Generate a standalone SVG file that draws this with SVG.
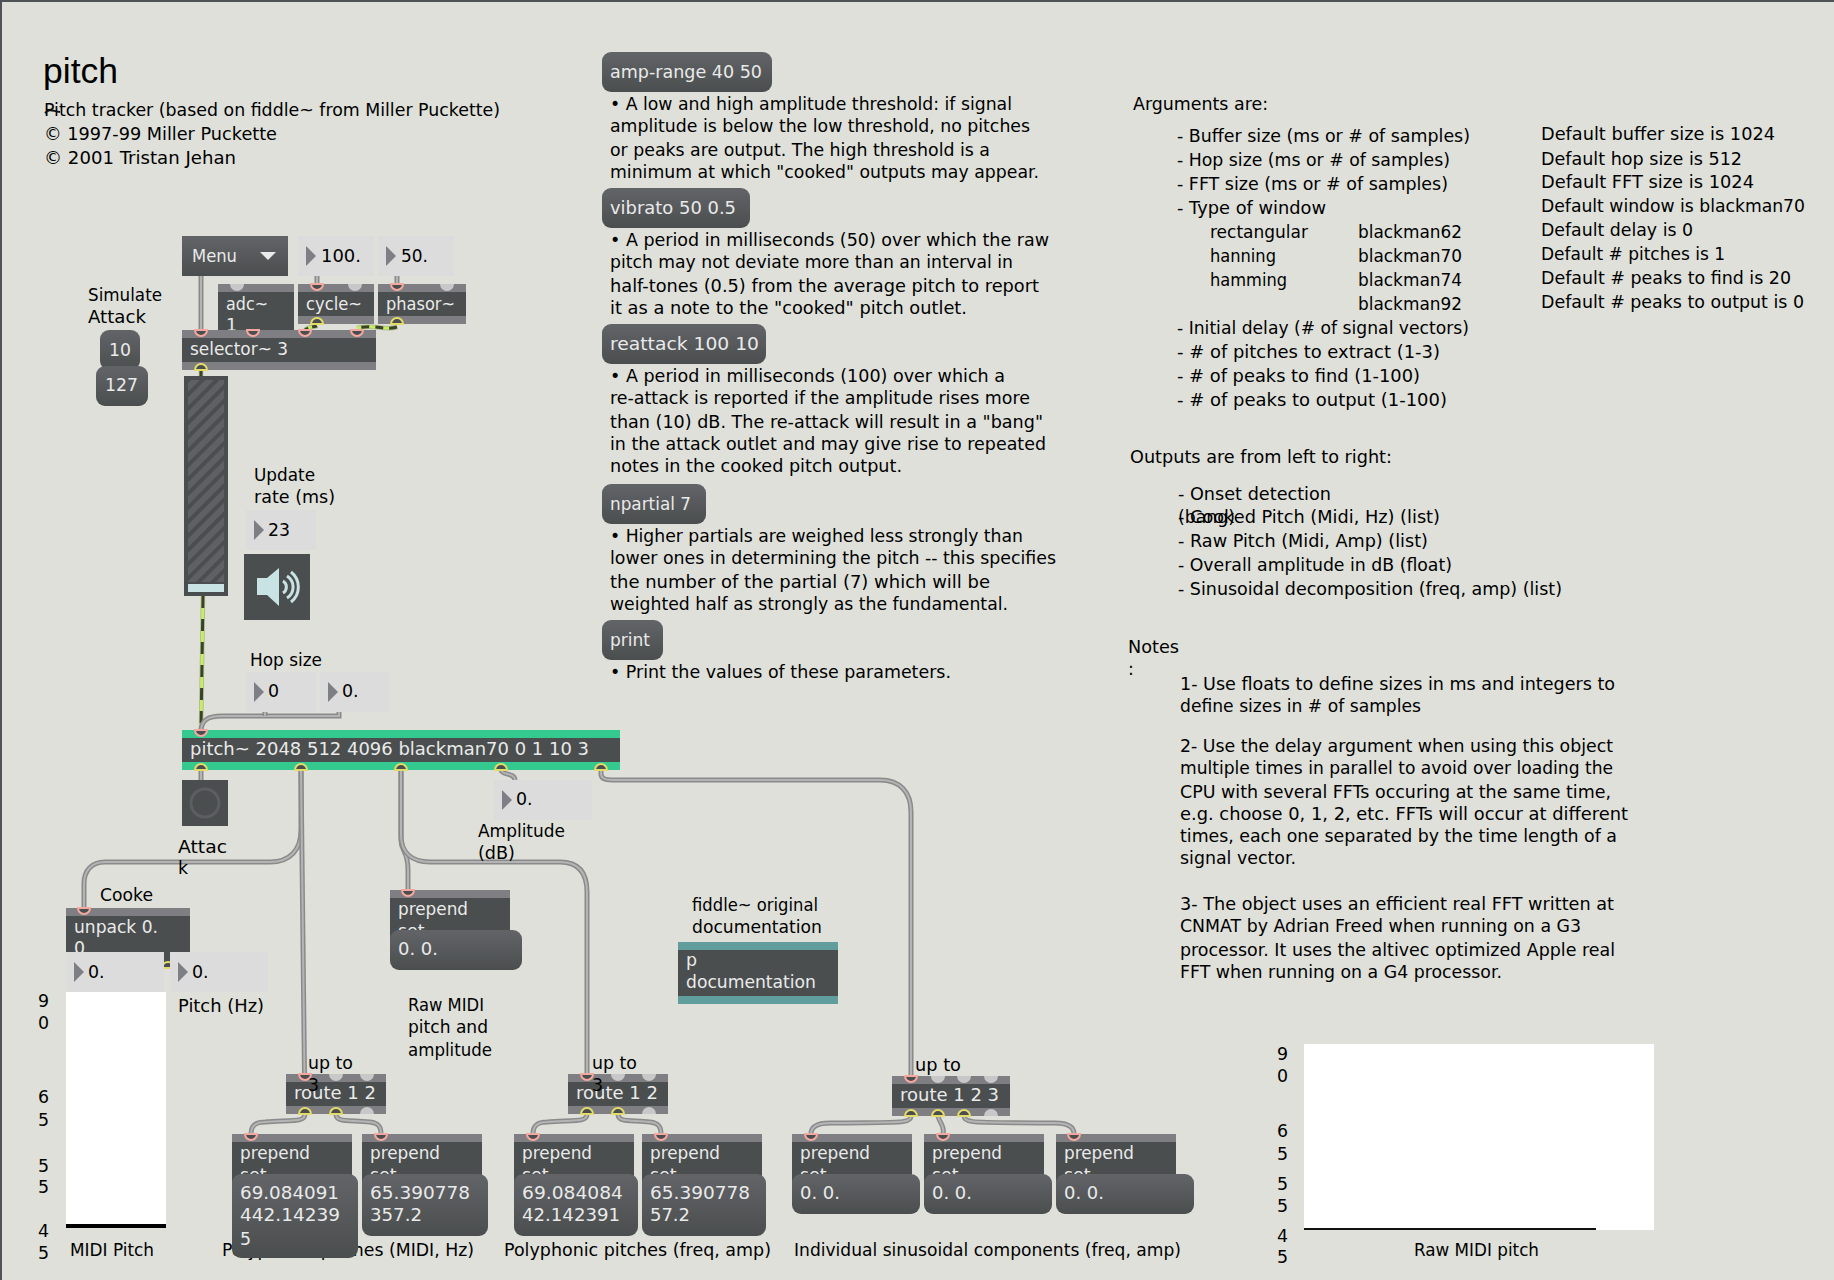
<svg xmlns="http://www.w3.org/2000/svg" width="1834" height="1280" viewBox="0 0 1834 1280">
<style>
text{font-family:"DejaVu Sans","Liberation Sans",sans-serif;font-size:17.4px;fill:#000}
.t{fill:#e9eaea}
.title{font-family:"Liberation Sans",Arial,sans-serif;font-size:35.5px}
.d{fill:#4b4e4e}
.m{fill:url(#msg)}
.b{fill:#7f7f83}
.n{fill:#dcdcdc}
.tr{fill:#7e7f85}
.g{fill:#34c98f}
.tl{fill:#629d9d}
.w{fill:#fff}
.c{fill:none;stroke:#8a8a8a;stroke-width:5}
.ci{fill:none;stroke:#b4b4b4;stroke-width:2}
.s{fill:none;stroke:#a9b58a;stroke-width:4.500}
.sa{fill:none;stroke:#c8ec66;stroke-width:3}
.sb{fill:none;stroke:#39432a;stroke-width:3;stroke-dasharray:12 11}
.pi{fill:#4b4e4e;stroke:#f4a8a0;stroke-width:2}
.po{fill:#4b4e4e;stroke:#e3dc6a;stroke-width:2}
.pu{fill:#c8c8c8}
</style>
<defs>
<linearGradient id="msg" x1="0" y1="0" x2="0" y2="1"><stop offset="0" stop-color="#626468"/><stop offset="1" stop-color="#4b4e4e"/></linearGradient>
<pattern id="hatch" width="10" height="10" patternUnits="userSpaceOnUse" patternTransform="rotate(-45)"><rect width="10" height="10" fill="#5e6064"/><rect width="10" height="4" fill="#4b4e4e"/></pattern>
</defs>
<rect width="1834" height="1280" fill="#dfe0da"/>
<rect width="1834" height="2" fill="#4f5358"/>
<rect width="2" height="1280" fill="#4f5358"/>

<g id="connectors">
<path class="c" d="M201 276V330"/><path class="ci" d="M201 276V330"/>
<path class="c" d="M317 276V284"/><path class="ci" d="M317 276V284"/>
<path class="c" d="M397 276V284"/><path class="ci" d="M397 276V284"/>
<path class="s" d="M317 326C315 327 310 326 305 330"/><path class="sa" d="M317 326C315 327 310 326 305 330"/><path class="sb" style="stroke-dasharray:5 4" d="M317 326C315 327 310 326 305 330"/>
<path class="s" d="M397 327C385 331 375 324 357 328"/><path class="sa" d="M397 327C385 331 375 324 357 328"/><path class="sb" style="stroke-dasharray:8 6" d="M397 327C385 331 375 324 357 328"/>
<path class="s" d="M201 370V378"/><path class="sb" d="M201 370V378"/>
<path class="s" d="M203 596L201 730"/><path class="sa" d="M203 596L201 730"/><path class="sb" d="M203 596L201 730"/>
<path class="c" d="M339 712V716H222C208 716 202 720 201 730"/><path class="ci" d="M339 712V716H222C208 716 202 720 201 730"/>
<path class="c" d="M265 712V716"/><path class="ci" d="M265 712V716"/>
<path class="c" d="M201 770V780"/><path class="ci" d="M201 770V780"/>
<path class="c" d="M301 770V830C301 850 290 862 270 862H105C92 862 84 870 84 884V908"/><path class="ci" d="M301 770V830C301 850 290 862 270 862H105C92 862 84 870 84 884V908"/>
<path class="c" d="M301 770L304.500 1074"/><path class="ci" d="M301 770L304.500 1074"/>
<path class="c" d="M401 770V840C401 852 408 850 408 870V890"/><path class="ci" d="M401 770V840C401 852 408 850 408 870V890"/>
<path class="c" d="M401 770V835C401 853 412 862 430 862H560C578 862 587 872 587 892V1074"/><path class="ci" d="M401 770V835C401 853 412 862 430 862H560C578 862 587 872 587 892V1074"/>
<path class="c" d="M501 770C503 776 514 772 515 780"/><path class="ci" d="M501 770C503 776 514 772 515 780"/>
<path class="c" d="M601 770V774C601 779 606 780 612 780H880C900 780 911 792 911 812V1076"/><path class="ci" d="M601 770V774C601 779 606 780 612 780H880C900 780 911 792 911 812V1076"/>
<path class="c" d="M305 1114C305 1122 295 1120 265 1122C255 1122 251 1126 251 1134"/><path class="ci" d="M305 1114C305 1122 295 1120 265 1122C255 1122 251 1126 251 1134"/>
<path class="c" d="M336 1114C336 1122 345 1120 370 1122C378 1123 381 1126 381 1134"/><path class="ci" d="M336 1114C336 1122 345 1120 370 1122C378 1123 381 1126 381 1134"/>
<path class="c" d="M587 1114C587 1122 577 1120 547 1122C537 1122 533 1126 533 1134"/><path class="ci" d="M587 1114C587 1122 577 1120 547 1122C537 1122 533 1126 533 1134"/>
<path class="c" d="M618 1114C618 1122 627 1120 650 1122C658 1123 661 1126 661 1134"/><path class="ci" d="M618 1114C618 1122 627 1120 650 1122C658 1123 661 1126 661 1134"/>
<path class="c" d="M911 1116C911 1124 900 1122 830 1123C816 1123 811 1128 811 1134"/><path class="ci" d="M911 1116C911 1124 900 1122 830 1123C816 1123 811 1128 811 1134"/>
<path class="c" d="M938 1116C940 1124 945 1126 943 1134"/><path class="ci" d="M938 1116C940 1124 945 1126 943 1134"/>
<path class="c" d="M964 1116C964 1124 975 1122 1055 1123C1070 1123 1074 1128 1074 1134"/><path class="ci" d="M964 1116C964 1124 975 1122 1055 1123C1070 1123 1074 1128 1074 1134"/>
</g>

<g id="header">
<text class="title" x="43" y="83">pitch</text>
<text x="44" y="116" textLength="456" lengthAdjust="spacingAndGlyphs">Pitch tracker (based on fiddle~ from Miller Puckette)</text>
<text x="44" y="140" textLength="233" lengthAdjust="spacingAndGlyphs">© 1997-99 Miller Puckette</text>
<text x="44" y="164" textLength="192" lengthAdjust="spacingAndGlyphs">© 2001 Tristan Jehan</text>
<path d="M45 113C50 108 52 111 60 112" fill="none" stroke="#111" stroke-width="2"/>
</g>

<g id="help-text">
<text x="610" y="110" textLength="402" lengthAdjust="spacingAndGlyphs">• A low and high amplitude threshold: if signal</text>
<text x="610" y="132" textLength="420" lengthAdjust="spacingAndGlyphs">amplitude is below the low threshold, no pitches</text>
<text x="610" y="156" textLength="380" lengthAdjust="spacingAndGlyphs">or peaks are output. The high threshold is a</text>
<text x="610" y="178" textLength="429" lengthAdjust="spacingAndGlyphs">minimum at which "cooked" outputs may appear.</text>
<text x="610" y="246" textLength="439" lengthAdjust="spacingAndGlyphs">• A period in milliseconds (50) over which the raw</text>
<text x="610" y="268" textLength="403" lengthAdjust="spacingAndGlyphs">pitch may not deviate more than an interval in</text>
<text x="610" y="292" textLength="429" lengthAdjust="spacingAndGlyphs">half-tones (0.5) from the average pitch to report</text>
<text x="610" y="314" textLength="357" lengthAdjust="spacingAndGlyphs">it as a note to the "cooked" pitch outlet.</text>
<text x="610" y="382" textLength="395" lengthAdjust="spacingAndGlyphs">• A period in milliseconds (100) over which a</text>
<text x="610" y="404" textLength="420" lengthAdjust="spacingAndGlyphs">re-attack is reported if the amplitude rises more</text>
<text x="610" y="428" textLength="433" lengthAdjust="spacingAndGlyphs">than (10) dB. The re-attack will result in a "bang"</text>
<text x="610" y="450" textLength="436" lengthAdjust="spacingAndGlyphs">in the attack outlet and may give rise to repeated</text>
<text x="610" y="472" textLength="292" lengthAdjust="spacingAndGlyphs">notes in the cooked pitch output.</text>
<text x="610" y="542" textLength="413" lengthAdjust="spacingAndGlyphs">• Higher partials are weighed less strongly than</text>
<text x="610" y="564" textLength="446" lengthAdjust="spacingAndGlyphs">lower ones in determining the pitch -- this specifies</text>
<text x="610" y="588" textLength="380" lengthAdjust="spacingAndGlyphs">the number of the partial (7) which will be</text>
<text x="610" y="610" textLength="398" lengthAdjust="spacingAndGlyphs">weighted half as strongly as the fundamental.</text>
<text x="610" y="678" textLength="341" lengthAdjust="spacingAndGlyphs">• Print the values of these parameters.</text>
</g>

<g id="arguments">
<text x="1133" y="110" textLength="135" lengthAdjust="spacingAndGlyphs">Arguments are:</text>
<text x="1177" y="142" textLength="293" lengthAdjust="spacingAndGlyphs">- Buffer size (ms or # of samples)</text>
<text x="1177" y="166" textLength="273" lengthAdjust="spacingAndGlyphs">- Hop size (ms or # of samples)</text>
<text x="1177" y="190" textLength="271" lengthAdjust="spacingAndGlyphs">- FFT size (ms or # of samples)</text>
<text x="1177" y="214" textLength="149" lengthAdjust="spacingAndGlyphs">- Type of window</text>
<text x="1210" y="238" textLength="98" lengthAdjust="spacingAndGlyphs">rectangular</text><text x="1358" y="238" textLength="104" lengthAdjust="spacingAndGlyphs">blackman62</text>
<text x="1210" y="262" textLength="66" lengthAdjust="spacingAndGlyphs">hanning</text><text x="1358" y="262" textLength="104" lengthAdjust="spacingAndGlyphs">blackman70</text>
<text x="1210" y="286" textLength="77" lengthAdjust="spacingAndGlyphs">hamming</text><text x="1358" y="286" textLength="104" lengthAdjust="spacingAndGlyphs">blackman74</text>
<text x="1358" y="310" textLength="104" lengthAdjust="spacingAndGlyphs">blackman92</text>
<text x="1177" y="334" textLength="292" lengthAdjust="spacingAndGlyphs">- Initial delay (# of signal vectors)</text>
<text x="1177" y="358" textLength="263" lengthAdjust="spacingAndGlyphs">- # of pitches to extract (1-3)</text>
<text x="1177" y="382" textLength="243" lengthAdjust="spacingAndGlyphs">- # of peaks to find (1-100)</text>
<text x="1177" y="406" textLength="270" lengthAdjust="spacingAndGlyphs">- # of peaks to output (1-100)</text>
<text x="1541" y="140" textLength="234" lengthAdjust="spacingAndGlyphs">Default buffer size is 1024</text>
<text x="1541" y="165" textLength="201" lengthAdjust="spacingAndGlyphs">Default hop size is 512</text>
<text x="1541" y="188" textLength="213" lengthAdjust="spacingAndGlyphs">Default FFT size is 1024</text>
<text x="1541" y="212" textLength="264" lengthAdjust="spacingAndGlyphs">Default window is blackman70</text>
<text x="1541" y="236" textLength="152" lengthAdjust="spacingAndGlyphs">Default delay is 0</text>
<text x="1541" y="260" textLength="184" lengthAdjust="spacingAndGlyphs">Default # pitches is 1</text>
<text x="1541" y="284" textLength="250" lengthAdjust="spacingAndGlyphs">Default # peaks to find is 20</text>
<text x="1541" y="308" textLength="263" lengthAdjust="spacingAndGlyphs">Default # peaks to output is 0</text>
<text x="1130" y="463" textLength="262" lengthAdjust="spacingAndGlyphs">Outputs are from left to right:</text>
<text x="1178" y="500" textLength="153" lengthAdjust="spacingAndGlyphs">- Onset detection</text>
<text x="1178" y="523" textLength="57" lengthAdjust="spacingAndGlyphs">(bang)</text>
<text x="1178" y="523" textLength="262" lengthAdjust="spacingAndGlyphs">- Cooked Pitch (Midi, Hz) (list)</text>
<text x="1178" y="547" textLength="250" lengthAdjust="spacingAndGlyphs">- Raw Pitch (Midi, Amp) (list)</text>
<text x="1178" y="571" textLength="274" lengthAdjust="spacingAndGlyphs">- Overall amplitude in dB (float)</text>
<text x="1178" y="595" textLength="384" lengthAdjust="spacingAndGlyphs">- Sinusoidal decomposition (freq, amp) (list)</text>
<text x="1128" y="653" textLength="51" lengthAdjust="spacingAndGlyphs">Notes</text>
<text x="1128" y="675">:</text>
<text x="1180" y="690" textLength="435" lengthAdjust="spacingAndGlyphs">1- Use floats to define sizes in ms and integers to</text>
<text x="1180" y="712" textLength="241" lengthAdjust="spacingAndGlyphs">define sizes in # of samples</text>
<text x="1180" y="752" textLength="433" lengthAdjust="spacingAndGlyphs">2- Use the delay argument when using this object</text>
<text x="1180" y="774" textLength="433" lengthAdjust="spacingAndGlyphs">multiple times in parallel to avoid over loading the</text>
<text x="1180" y="798" textLength="431" lengthAdjust="spacingAndGlyphs">CPU with several FFTs occuring at the same time,</text>
<text x="1180" y="820" textLength="448" lengthAdjust="spacingAndGlyphs">e.g. choose 0, 1, 2, etc. FFTs will occur at different</text>
<text x="1180" y="842" textLength="437" lengthAdjust="spacingAndGlyphs">times, each one separated by the time length of a</text>
<text x="1180" y="864" textLength="116" lengthAdjust="spacingAndGlyphs">signal vector.</text>
<text x="1180" y="910" textLength="434" lengthAdjust="spacingAndGlyphs">3- The object uses an efficient real FFT written at</text>
<text x="1180" y="932" textLength="401" lengthAdjust="spacingAndGlyphs">CNMAT by Adrian Freed when running on a G3</text>
<text x="1180" y="956" textLength="435" lengthAdjust="spacingAndGlyphs">processor. It uses the altivec optimized Apple real</text>
<text x="1180" y="978" textLength="322" lengthAdjust="spacingAndGlyphs">FFT when running on a G4 processor.</text>
</g>

<g id="labels" transform="translate(0,-1)">
<text x="88" y="302" textLength="74" lengthAdjust="spacingAndGlyphs">Simulate</text><text x="88" y="324" textLength="58" lengthAdjust="spacingAndGlyphs">Attack</text>
<text x="254" y="482" textLength="61" lengthAdjust="spacingAndGlyphs">Update</text><text x="254" y="504" textLength="81" lengthAdjust="spacingAndGlyphs">rate (ms)</text>
<text x="250" y="667" textLength="72" lengthAdjust="spacingAndGlyphs">Hop size</text>
<text x="178" y="854" textLength="49" lengthAdjust="spacingAndGlyphs">Attac</text><text x="178" y="875">k</text>
<text x="478" y="838" textLength="87" lengthAdjust="spacingAndGlyphs">Amplitude</text><text x="478" y="860" textLength="37" lengthAdjust="spacingAndGlyphs">(dB)</text>
<text x="100" y="902" textLength="53" lengthAdjust="spacingAndGlyphs">Cooke</text>
<text x="178" y="1013" textLength="86" lengthAdjust="spacingAndGlyphs">Pitch (Hz)</text>
<text x="408" y="1012" textLength="76" lengthAdjust="spacingAndGlyphs">Raw MIDI</text><text x="408" y="1034" textLength="80" lengthAdjust="spacingAndGlyphs">pitch and</text><text x="408" y="1057" textLength="84" lengthAdjust="spacingAndGlyphs">amplitude</text>
<text x="692" y="912" textLength="126" lengthAdjust="spacingAndGlyphs">fiddle~ original</text><text x="692" y="934" textLength="130" lengthAdjust="spacingAndGlyphs">documentation</text>
<text x="70" y="1257" textLength="84" lengthAdjust="spacingAndGlyphs">MIDI Pitch</text>
<text x="222" y="1257" textLength="252" lengthAdjust="spacingAndGlyphs">Polyphonic pitches (MIDI, Hz)</text>
<text x="504" y="1257" textLength="267" lengthAdjust="spacingAndGlyphs">Polyphonic pitches (freq, amp)</text>
<text x="794" y="1257" textLength="387" lengthAdjust="spacingAndGlyphs">Individual sinusoidal components (freq, amp)</text>
<text x="1414" y="1257" textLength="125" lengthAdjust="spacingAndGlyphs">Raw MIDI pitch</text>
</g>

<g id="msg-amp-range"><rect class="m" x="602" y="52" width="170" height="40" rx="9"/><text class="t" x="610" y="78" textLength="152" lengthAdjust="spacingAndGlyphs">amp-range 40 50</text></g>
<g id="msg-vibrato"><rect class="m" x="602" y="188" width="148" height="40" rx="9"/><text class="t" x="610" y="214" textLength="126" lengthAdjust="spacingAndGlyphs">vibrato 50 0.5</text></g>
<g id="msg-reattack"><rect class="m" x="602" y="324" width="164" height="40" rx="9"/><text class="t" x="610" y="350" textLength="149" lengthAdjust="spacingAndGlyphs">reattack 100 10</text></g>
<g id="msg-npartial"><rect class="m" x="602" y="484" width="104" height="40" rx="9"/><text class="t" x="610" y="510" textLength="81" lengthAdjust="spacingAndGlyphs">npartial 7</text></g>
<g id="msg-print"><rect class="m" x="602" y="620" width="61" height="40" rx="9"/><text class="t" x="610" y="646" textLength="40" lengthAdjust="spacingAndGlyphs">print</text></g>

<g id="menu"><rect class="m" x="182" y="236" width="106" height="40"/><text class="t" x="192" y="262" textLength="45" lengthAdjust="spacingAndGlyphs">Menu</text><polygon points="260,252 276,252 268,260" fill="#e9eaea"/></g>
<g id="num-100"><rect class="n" x="298" y="236" width="76" height="40"/><polygon class="tr" points="306,246 316,256 306,266"/><text x="321" y="262" textLength="40" lengthAdjust="spacingAndGlyphs">100.</text></g>
<g id="num-50"><rect class="n" x="378" y="236" width="76" height="40"/><polygon class="tr" points="386,246 396,256 386,266"/><text x="401" y="262" textLength="27" lengthAdjust="spacingAndGlyphs">50.</text></g>

<g id="adc"><rect class="d" x="218" y="284" width="76" height="46"/><rect class="b" x="218" y="284" width="76" height="8"/><path class="pu" d="M230 284a7 7 0 0 0 14 0z"/><text class="t" x="226" y="310" textLength="42" lengthAdjust="spacingAndGlyphs">adc~</text><text class="t" x="226" y="331">1</text></g>
<g id="cycle"><rect class="d" x="298" y="284" width="76" height="40"/><rect class="b" x="298" y="284" width="76" height="8"/><rect class="b" x="298" y="316" width="76" height="8"/><path class="pi" d="M311 284a6 6 0 0 0 12 0z"/><path class="pu" d="M348 284a7 7 0 0 0 14 0z"/><path class="po" d="M311 324a6 6 0 0 1 12 0z"/><text class="t" x="306" y="310" textLength="56" lengthAdjust="spacingAndGlyphs">cycle~</text></g>
<g id="phasor"><rect class="d" x="378" y="284" width="88" height="40"/><rect class="b" x="378" y="284" width="88" height="8"/><rect class="b" x="378" y="316" width="88" height="8"/><path class="pi" d="M391 284a6 6 0 0 0 12 0z"/><path class="pu" d="M440 284a7 7 0 0 0 14 0z"/><path class="po" d="M391 324a6 6 0 0 1 12 0z"/><text class="t" x="386" y="310" textLength="69" lengthAdjust="spacingAndGlyphs">phasor~</text></g>
<g id="selector"><rect class="d" x="182" y="330" width="194" height="40"/><rect class="b" x="182" y="330" width="194" height="8"/><rect class="b" x="182" y="362" width="194" height="8"/><path class="pi" d="M195 330a6 6 0 0 0 12 0z"/><path class="pi" d="M247 330a6 6 0 0 0 12 0z"/><path class="pi" d="M299 330a6 6 0 0 0 12 0z"/><path class="pi" d="M351 330a6 6 0 0 0 12 0z"/><path class="po" d="M195 370a6 6 0 0 1 12 0z"/><text class="t" x="190" y="355" textLength="98" lengthAdjust="spacingAndGlyphs">selector~ 3</text></g>

<g id="msg-10"><rect class="m" x="100" y="330" width="40" height="40" rx="9"/><text class="t" x="109" y="356" textLength="22" lengthAdjust="spacingAndGlyphs">10</text></g>
<g id="msg-127"><rect class="m" x="96" y="366" width="52" height="40" rx="9"/><text class="t" x="105" y="391" textLength="33" lengthAdjust="spacingAndGlyphs">127</text></g>

<g id="gain"><rect class="d" x="184" y="376" width="44" height="220"/><rect x="188" y="380" width="36" height="202" fill="url(#hatch)"/><rect x="188" y="584" width="36" height="8" fill="#c9e2e3"/></g>
<g id="num-23"><rect class="n" x="246" y="510" width="70" height="40"/><polygon class="tr" points="254,520 264,530 254,540"/><text x="268" y="536" textLength="22" lengthAdjust="spacingAndGlyphs">23</text></g>
<g id="ezdac"><rect class="d" x="244" y="554" width="66" height="66"/><polygon points="257,578 267,578 279,568 279,606 267,595 257,595" fill="#c9e2e3"/><path d="M283 581a7 7 0 0 1 0 12M287 576a13 13 0 0 1 0 22M291 572a19 19 0 0 1 0 30" fill="none" stroke="#c9e2e3" stroke-width="3"/></g>
<g id="num-hop-int"><rect class="n" x="246" y="672" width="70" height="40"/><polygon class="tr" points="254,682 264,692 254,702"/><text x="268" y="697">0</text></g>
<g id="num-hop-float"><rect class="n" x="320" y="672" width="70" height="40"/><polygon class="tr" points="328,682 338,692 328,702"/><text x="342" y="697">0.</text></g>

<g id="pitch"><rect class="d" x="182" y="730" width="438" height="40"/><rect class="g" x="182" y="730" width="438" height="8"/><rect class="g" x="182" y="762" width="438" height="8"/><path class="pi" d="M195 730a6 6 0 0 0 12 0z"/><path class="po" d="M195 770a6 6 0 0 1 12 0z"/><path class="po" d="M295 770a6 6 0 0 1 12 0z"/><path class="po" d="M395 770a6 6 0 0 1 12 0z"/><path class="po" d="M495 770a6 6 0 0 1 12 0z"/><path class="po" d="M595 770a6 6 0 0 1 12 0z"/><text class="t" x="190" y="755" textLength="399" lengthAdjust="spacingAndGlyphs">pitch~ 2048 512 4096 blackman70 0 1 10 3</text></g>
<g id="bang"><rect class="d" x="182" y="780" width="46" height="46"/><circle cx="205" cy="803" r="14" fill="none" stroke="#5c5e62" stroke-width="3"/></g>
<g id="num-amp"><rect class="n" x="494" y="780" width="98" height="40"/><polygon class="tr" points="502,790 512,800 502,810"/><text x="516" y="805">0.</text></g>

<g id="unpack"><rect class="d" x="66" y="908" width="124" height="60"/><rect class="b" x="66" y="908" width="124" height="8"/><path class="pi" d="M78 908a6 6 0 0 0 12 0z"/><path class="po" d="M162 968a6 6 0 0 1 12 0z"/><text class="t" x="74" y="933" textLength="84" lengthAdjust="spacingAndGlyphs">unpack 0.</text><text class="t" x="74" y="954">0</text></g>
<g id="num-midi"><rect class="n" x="66" y="952" width="98" height="40"/><polygon class="tr" points="74,962 84,972 74,982"/><text x="88" y="978">0.</text></g>
<g id="num-hz"><rect class="n" x="170" y="952" width="98" height="40"/><polygon class="tr" points="178,962 188,972 178,982"/><text x="192" y="978">0.</text></g>
<g id="midi-plot"><rect class="w" x="66" y="992" width="100" height="236"/><rect x="66" y="1224" width="100" height="4" fill="#000"/><text x="38" y="1007">9</text><text x="38" y="1029">0</text><text x="38" y="1103">6</text><text x="38" y="1126">5</text><text x="38" y="1172">5</text><text x="38" y="1193">5</text><text x="38" y="1237">4</text><text x="38" y="1259">5</text></g>

<g id="prepend-raw"><rect class="d" x="390" y="890" width="120" height="50"/><rect class="b" x="390" y="890" width="120" height="8"/><path class="pi" d="M402 890a6 6 0 0 0 12 0z"/><text class="t" x="398" y="915" textLength="70" lengthAdjust="spacingAndGlyphs">prepend</text><text class="t" x="398" y="937">set</text></g>
<g id="msg-raw"><rect class="m" x="390" y="930" width="132" height="40" rx="9"/><text class="t" x="398" y="955" textLength="40" lengthAdjust="spacingAndGlyphs">0. 0.</text></g>
<g id="documentation"><rect class="d" x="678" y="942" width="160" height="62"/><rect class="tl" x="678" y="942" width="160" height="8"/><rect class="tl" x="678" y="996" width="160" height="8"/><text class="t" x="686" y="966">p</text><text class="t" x="686" y="988" textLength="130" lengthAdjust="spacingAndGlyphs">documentation</text></g>

<g id="route-a"><rect class="d" x="286" y="1074" width="100" height="40"/><rect class="b" x="286" y="1074" width="100" height="8"/><rect class="b" x="286" y="1106" width="100" height="8"/><path class="pi" d="M299 1074a6 6 0 0 0 12 0z"/><path class="pu" d="M329 1074a7 7 0 0 0 14 0z"/><path class="pu" d="M360 1074a7 7 0 0 0 14 0z"/><path class="po" d="M299 1114a6 6 0 0 1 12 0z"/><path class="po" d="M330 1114a6 6 0 0 1 12 0z"/><path class="pu" d="M360 1114a7 7 0 0 1 14 0z"/><text class="t" x="294" y="1099" textLength="82" lengthAdjust="spacingAndGlyphs">route 1 2</text></g>
<g id="route-a-label"><text x="308" y="1069" textLength="45" lengthAdjust="spacingAndGlyphs">up to</text><text x="308" y="1091">3</text></g>
<g id="route-b"><rect class="d" x="568" y="1074" width="100" height="40"/><rect class="b" x="568" y="1074" width="100" height="8"/><rect class="b" x="568" y="1106" width="100" height="8"/><path class="pi" d="M581 1074a6 6 0 0 0 12 0z"/><path class="pu" d="M611 1074a7 7 0 0 0 14 0z"/><path class="pu" d="M642 1074a7 7 0 0 0 14 0z"/><path class="po" d="M581 1114a6 6 0 0 1 12 0z"/><path class="po" d="M612 1114a6 6 0 0 1 12 0z"/><path class="pu" d="M642 1114a7 7 0 0 1 14 0z"/><text class="t" x="576" y="1099" textLength="82" lengthAdjust="spacingAndGlyphs">route 1 2</text></g>
<g id="route-b-label"><text x="592" y="1069" textLength="45" lengthAdjust="spacingAndGlyphs">up to</text><text x="592" y="1091">3</text></g>
<g id="route-c-label"><text x="915" y="1071" textLength="46" lengthAdjust="spacingAndGlyphs">up to</text></g>
<g id="route-c"><rect class="d" x="892" y="1076" width="118" height="40"/><rect class="b" x="892" y="1076" width="118" height="8"/><rect class="b" x="892" y="1108" width="118" height="8"/><path class="pi" d="M905 1076a6 6 0 0 0 12 0z"/><path class="pu" d="M931 1076a7 7 0 0 0 14 0z"/><path class="pu" d="M957 1076a7 7 0 0 0 14 0z"/><path class="pu" d="M984 1076a7 7 0 0 0 14 0z"/><path class="po" d="M905 1116a6 6 0 0 1 12 0z"/><path class="po" d="M932 1116a6 6 0 0 1 12 0z"/><path class="po" d="M958 1116a6 6 0 0 1 12 0z"/><path class="pu" d="M984 1116a7 7 0 0 1 14 0z"/><text class="t" x="900" y="1101" textLength="99" lengthAdjust="spacingAndGlyphs">route 1 2 3</text></g>

<g id="prepend-1"><rect class="d" x="232" y="1134" width="120" height="50"/><rect class="b" x="232" y="1134" width="120" height="8"/><path class="pi" d="M245 1134a6 6 0 0 0 12 0z"/><text class="t" x="240" y="1159" textLength="70" lengthAdjust="spacingAndGlyphs">prepend</text><text class="t" x="240" y="1181">set</text></g>
<g id="prepend-2"><rect class="d" x="362" y="1134" width="120" height="50"/><rect class="b" x="362" y="1134" width="120" height="8"/><path class="pi" d="M375 1134a6 6 0 0 0 12 0z"/><text class="t" x="370" y="1159" textLength="70" lengthAdjust="spacingAndGlyphs">prepend</text><text class="t" x="370" y="1181">set</text></g>
<g id="prepend-3"><rect class="d" x="514" y="1134" width="120" height="50"/><rect class="b" x="514" y="1134" width="120" height="8"/><path class="pi" d="M527 1134a6 6 0 0 0 12 0z"/><text class="t" x="522" y="1159" textLength="70" lengthAdjust="spacingAndGlyphs">prepend</text><text class="t" x="522" y="1181">set</text></g>
<g id="prepend-4"><rect class="d" x="642" y="1134" width="120" height="50"/><rect class="b" x="642" y="1134" width="120" height="8"/><path class="pi" d="M655 1134a6 6 0 0 0 12 0z"/><text class="t" x="650" y="1159" textLength="70" lengthAdjust="spacingAndGlyphs">prepend</text><text class="t" x="650" y="1181">set</text></g>
<g id="prepend-5"><rect class="d" x="792" y="1134" width="120" height="50"/><rect class="b" x="792" y="1134" width="120" height="8"/><path class="pi" d="M805 1134a6 6 0 0 0 12 0z"/><text class="t" x="800" y="1159" textLength="70" lengthAdjust="spacingAndGlyphs">prepend</text><text class="t" x="800" y="1181">set</text></g>
<g id="prepend-6"><rect class="d" x="924" y="1134" width="120" height="50"/><rect class="b" x="924" y="1134" width="120" height="8"/><path class="pi" d="M937 1134a6 6 0 0 0 12 0z"/><text class="t" x="932" y="1159" textLength="70" lengthAdjust="spacingAndGlyphs">prepend</text><text class="t" x="932" y="1181">set</text></g>
<g id="prepend-7"><rect class="d" x="1056" y="1134" width="120" height="50"/><rect class="b" x="1056" y="1134" width="120" height="8"/><path class="pi" d="M1068 1134a6 6 0 0 0 12 0z"/><text class="t" x="1064" y="1159" textLength="70" lengthAdjust="spacingAndGlyphs">prepend</text><text class="t" x="1064" y="1181">set</text></g>

<g id="msg-1"><rect class="m" x="232" y="1174" width="126" height="84" rx="9"/><text class="t" x="240" y="1199" textLength="99" lengthAdjust="spacingAndGlyphs">69.084091</text><text class="t" x="240" y="1221" textLength="100" lengthAdjust="spacingAndGlyphs">442.14239</text><text class="t" x="240" y="1245">5</text></g>
<g id="msg-2"><rect class="m" x="362" y="1174" width="126" height="62" rx="9"/><text class="t" x="370" y="1199" textLength="100" lengthAdjust="spacingAndGlyphs">65.390778</text><text class="t" x="370" y="1221" textLength="52" lengthAdjust="spacingAndGlyphs">357.2</text></g>
<g id="msg-3"><rect class="m" x="514" y="1174" width="124" height="62" rx="9"/><text class="t" x="522" y="1199" textLength="101" lengthAdjust="spacingAndGlyphs">69.084084</text><text class="t" x="522" y="1221" textLength="98" lengthAdjust="spacingAndGlyphs">42.142391</text></g>
<g id="msg-4"><rect class="m" x="642" y="1174" width="124" height="62" rx="9"/><text class="t" x="650" y="1199" textLength="100" lengthAdjust="spacingAndGlyphs">65.390778</text><text class="t" x="650" y="1221" textLength="40" lengthAdjust="spacingAndGlyphs">57.2</text></g>
<g id="msg-5"><rect class="m" x="792" y="1174" width="128" height="40" rx="9"/><text class="t" x="800" y="1199" textLength="40" lengthAdjust="spacingAndGlyphs">0. 0.</text></g>
<g id="msg-6"><rect class="m" x="924" y="1174" width="128" height="40" rx="9"/><text class="t" x="932" y="1199" textLength="40" lengthAdjust="spacingAndGlyphs">0. 0.</text></g>
<g id="msg-7"><rect class="m" x="1056" y="1174" width="138" height="40" rx="9"/><text class="t" x="1064" y="1199" textLength="40" lengthAdjust="spacingAndGlyphs">0. 0.</text></g>

<g id="raw-plot"><rect class="w" x="1304" y="1044" width="350" height="186"/><rect x="1304" y="1228" width="292" height="2" fill="#111"/><text x="1277" y="1060">9</text><text x="1277" y="1082">0</text><text x="1277" y="1137">6</text><text x="1277" y="1160">5</text><text x="1277" y="1190">5</text><text x="1277" y="1212">5</text><text x="1277" y="1242">4</text><text x="1277" y="1263">5</text></g>
</svg>
